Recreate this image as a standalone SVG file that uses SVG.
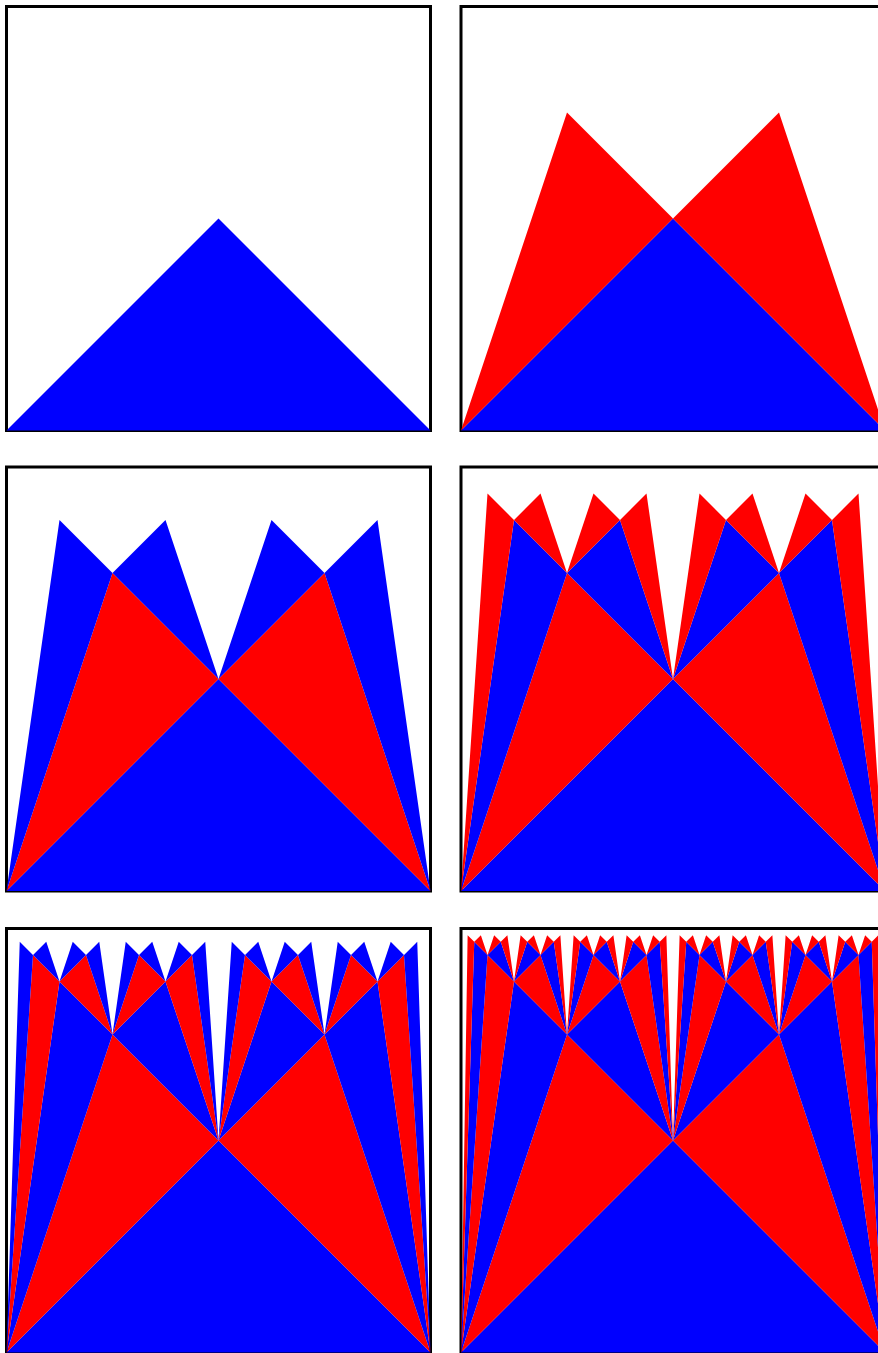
<svg xmlns="http://www.w3.org/2000/svg" xmlns:xlink="http://www.w3.org/1999/xlink" width="878" height="1353" viewBox="0 0 878 1353">
<style>
.box{fill:#ffffff;stroke:#000000;stroke-width:3}
.b{fill:#0000ff;stroke:none}
.r{fill:#ff0000;stroke:none}
</style>
<defs>
<path id="L1" class="b" d="M0,64 L32,32 L64,64 Z"/>
<path id="L2" class="r" d="M0,64 L16,16 L32,32 Z M32,32 L48,16 L64,64 Z"/>
<path id="L3" class="b" d="M0,64 L8,8 L16,16 Z M16,16 L24,8 L32,32 Z M32,32 L40,8 L48,16 Z M48,16 L56,8 L64,64 Z"/>
<path id="L4" class="r" d="M0,64 L4,4 L8,8Z M8,8 L12,4 L16,16Z M16,16 L20,4 L24,8Z M24,8 L28,4 L32,32Z M32,32 L36,4 L40,8Z M40,8 L44,4 L48,16Z M48,16 L52,4 L56,8Z M56,8 L60,4 L64,64Z"/>
<path id="L5" class="b" d="M0,64 L2,2 L4,4Z M4,4 L6,2 L8,8Z M8,8 L10,2 L12,4Z M12,4 L14,2 L16,16Z M16,16 L18,2 L20,4Z M20,4 L22,2 L24,8Z M24,8 L26,2 L28,4Z M28,4 L30,2 L32,32Z M32,32 L34,2 L36,4Z M36,4 L38,2 L40,8Z M40,8 L42,2 L44,4Z M44,4 L46,2 L48,16Z M48,16 L50,2 L52,4Z M52,4 L54,2 L56,8Z M56,8 L58,2 L60,4Z M60,4 L62,2 L64,64Z"/>
<path id="L6" class="r" d="M0,64 L1,1 L2,2Z M2,2 L3,1 L4,4Z M4,4 L5,1 L6,2Z M6,2 L7,1 L8,8Z M8,8 L9,1 L10,2Z M10,2 L11,1 L12,4Z M12,4 L13,1 L14,2Z M14,2 L15,1 L16,16Z M16,16 L17,1 L18,2Z M18,2 L19,1 L20,4Z M20,4 L21,1 L22,2Z M22,2 L23,1 L24,8Z M24,8 L25,1 L26,2Z M26,2 L27,1 L28,4Z M28,4 L29,1 L30,2Z M30,2 L31,1 L32,32Z M32,32 L33,1 L34,2Z M34,2 L35,1 L36,4Z M36,4 L37,1 L38,2Z M38,2 L39,1 L40,8Z M40,8 L41,1 L42,2Z M42,2 L43,1 L44,4Z M44,4 L45,1 L46,2Z M46,2 L47,1 L48,16Z M48,16 L49,1 L50,2Z M50,2 L51,1 L52,4Z M52,4 L53,1 L54,2Z M54,2 L55,1 L56,8Z M56,8 L57,1 L58,2Z M58,2 L59,1 L60,4Z M60,4 L61,1 L62,2Z M62,2 L63,1 L64,64Z"/>
</defs>
<g id="panel1" transform="translate(6.5,6.5)">
<rect class="box" x="0" y="0" width="424" height="424"/>
<g transform="scale(6.625)"><use xlink:href="#L1" href="#L1"/></g>
</g>
<g id="panel2" transform="translate(461,6.5)">
<rect class="box" x="0" y="0" width="424" height="424"/>
<g transform="scale(6.625)"><use xlink:href="#L1" href="#L1"/><use xlink:href="#L2" href="#L2"/></g>
</g>
<g id="panel3" transform="translate(6.5,467)">
<rect class="box" x="0" y="0" width="424" height="424"/>
<g transform="scale(6.625)"><use xlink:href="#L1" href="#L1"/><use xlink:href="#L2" href="#L2"/><use xlink:href="#L3" href="#L3"/></g>
</g>
<g id="panel4" transform="translate(461,467)">
<rect class="box" x="0" y="0" width="424" height="424"/>
<g transform="scale(6.625)"><use xlink:href="#L1" href="#L1"/><use xlink:href="#L2" href="#L2"/><use xlink:href="#L3" href="#L3"/><use xlink:href="#L4" href="#L4"/></g>
</g>
<g id="panel5" transform="translate(6.5,928.5)">
<rect class="box" x="0" y="0" width="424" height="424"/>
<g transform="scale(6.625)"><use xlink:href="#L1" href="#L1"/><use xlink:href="#L2" href="#L2"/><use xlink:href="#L3" href="#L3"/><use xlink:href="#L4" href="#L4"/><use xlink:href="#L5" href="#L5"/></g>
</g>
<g id="panel6" transform="translate(461,928.5)">
<rect class="box" x="0" y="0" width="424" height="424"/>
<g transform="scale(6.625)"><use xlink:href="#L1" href="#L1"/><use xlink:href="#L2" href="#L2"/><use xlink:href="#L3" href="#L3"/><use xlink:href="#L4" href="#L4"/><use xlink:href="#L5" href="#L5"/><use xlink:href="#L6" href="#L6"/></g>
</g>
</svg>
